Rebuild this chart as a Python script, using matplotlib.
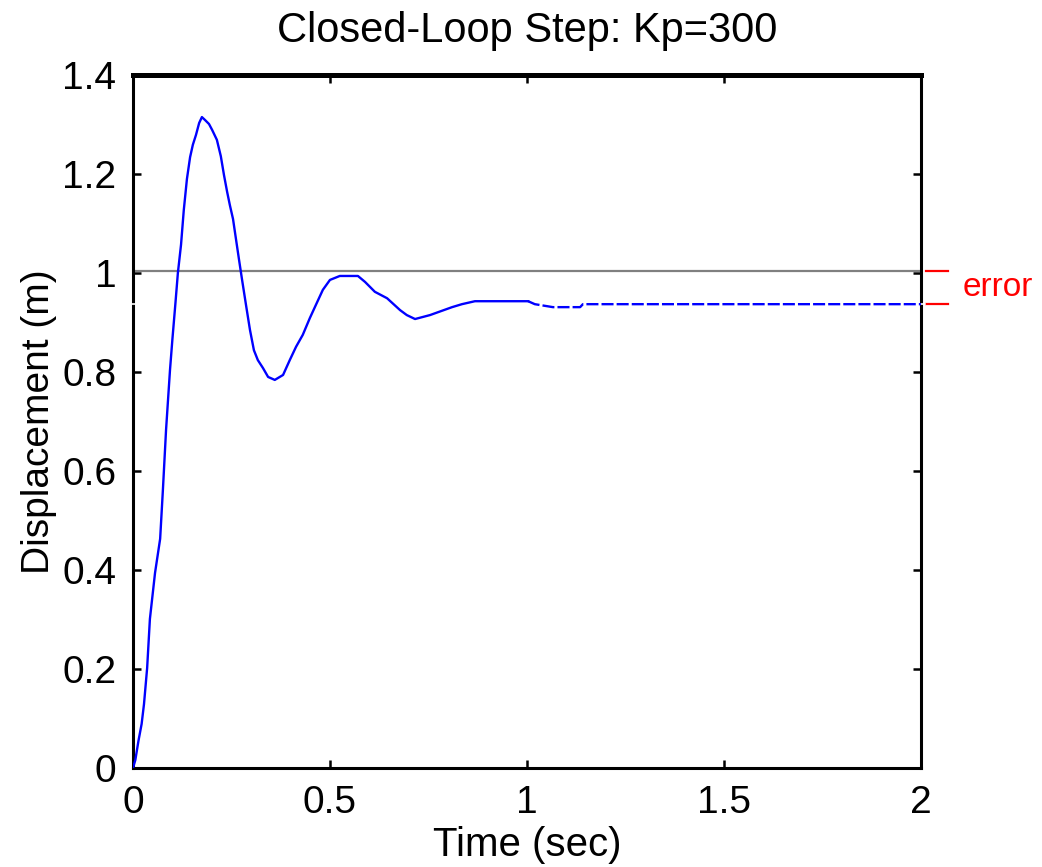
import matplotlib
matplotlib.use("Agg")
import matplotlib.pyplot as plt

plt.rcParams['font.family'] = ['Liberation Sans', 'DejaVu Sans']

# step response, solid part
t_solid = [0, 0.006, 0.014, 0.022, 0.028, 0.036, 0.043, 0.056, 0.069, 0.076, 0.084,
           0.094, 0.100, 0.108, 0.114, 0.122, 0.129, 0.137, 0.145, 0.152, 0.160,
           0.168, 0.175, 0.183, 0.193, 0.201, 0.213, 0.223, 0.231, 0.239, 0.246,
           0.254, 0.261, 0.269, 0.277, 0.287, 0.297, 0.307, 0.317, 0.330, 0.343,
           0.360, 0.381, 0.398, 0.414, 0.431, 0.449, 0.464, 0.482, 0.500, 0.525,
           0.571, 0.589, 0.614, 0.645, 0.678, 0.695, 0.716, 0.754, 0.789, 0.810,
           0.835, 0.868, 1.003]
y_solid = [0, 0.016, 0.055, 0.089, 0.129, 0.202, 0.301, 0.394, 0.463, 0.562, 0.683,
           0.804, 0.865, 0.941, 1.000, 1.057, 1.127, 1.190, 1.234, 1.259, 1.279,
           1.303, 1.315, 1.309, 1.301, 1.289, 1.269, 1.236, 1.198, 1.164, 1.137,
           1.109, 1.071, 1.028, 0.986, 0.935, 0.885, 0.844, 0.824, 0.808, 0.790,
           0.784, 0.794, 0.824, 0.851, 0.875, 0.909, 0.935, 0.966, 0.986, 0.994,
           0.994, 0.982, 0.962, 0.949, 0.925, 0.915, 0.907, 0.915, 0.925, 0.931,
           0.937, 0.943, 0.943]

# dashed continuation
t_dash = [1.003, 1.020, 1.066, 1.135, 1.142, 2.0]
y_dash = [0.943, 0.937, 0.931, 0.931, 0.937, 0.937]

reference = 1.005
final_value = 0.937

xticks = [0, 0.5, 1, 1.5, 2]
xticklabels = ['0', '0.5', '1', '1.5', '2']
yticks = [0, 0.2, 0.4, 0.6, 0.8, 1.0, 1.2, 1.4]
yticklabels = ['0', '0.2', '0.4', '0.6', '0.8', '1', '1.2', '1.4']

fig = plt.figure(figsize=(10.42, 8.67), dpi=100)
ax = fig.add_axes([0.1276, 0.1142, 0.7562, 0.7993])

ax.axhline(reference, color='#808080', lw=1.6, zorder=2)
# white notch where the final value meets the frame
ax.plot([-0.01, 2.01], [final_value, final_value], color='white', lw=1.2,
        clip_on=False, zorder=2.6)
ax.plot(t_solid, y_solid, color='#0000ff', lw=1.7, zorder=3)
ax.plot(t_dash, y_dash, color='#0000ff', lw=1.7, linestyle=(0, (5.1, 1.3)), zorder=3)

# error markers outside the frame
for yy in [reference, final_value]:
    ax.plot([2.013, 2.069], [yy, yy], color='red', lw=1.6, clip_on=False)
ax.text(2.105, (reference + final_value) / 2, 'error', color='red', fontsize=24,
        va='center', ha='left')

ax.set_xlim(0, 2)
ax.set_ylim(0, 1.4)
ax.set_xticks(xticks)
ax.set_xticklabels(xticklabels)
ax.set_yticks(yticks)
ax.set_yticklabels(yticklabels)
ax.tick_params(direction='in', top=True, right=True, length=6, width=1.8,
               labelsize=28, pad=12)

for side in ['left', 'right', 'bottom']:
    ax.spines[side].set_linewidth(2.2)
ax.spines['top'].set_linewidth(3.6)

ax.set_title('Closed-Loop Step: Kp=300', fontsize=30, pad=24)
ax.set_xlabel('Time (sec)', fontsize=29, labelpad=4)
ax.set_ylabel('Displacement (m)', fontsize=28, labelpad=4)

fig.savefig('out.png', dpi=100)
